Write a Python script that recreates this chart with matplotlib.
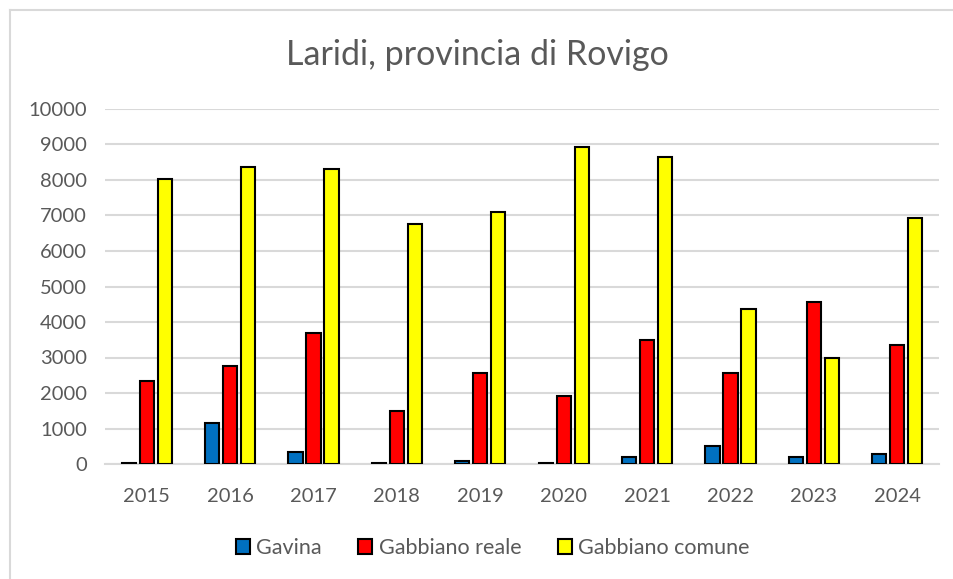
import matplotlib
matplotlib.use("Agg")
import matplotlib.pyplot as plt
import numpy as np
from matplotlib.lines import Line2D

years = ["2015", "2016", "2017", "2018", "2019", "2020", "2021", "2022", "2023", "2024"]
gavina = [40, 1150, 330, 40, 80, 40, 190, 510, 190, 290]
gabbiano_reale = [2350, 2760, 3700, 1480, 2570, 1915, 3490, 2560, 4570, 3350]
gabbiano_comune = [8030, 8360, 8320, 6750, 7085, 8930, 8650, 4380, 2980, 6930]
series_names = ["Gavina", "Gabbiano reale", "Gabbiano comune"]
y_ticks = [0, 1000, 2000, 3000, 4000, 5000, 6000, 7000, 8000, 9000, 10000]

colors = ["#0070C0", "#FF0000", "#FFFF00"]
text_gray = "#595959"
grid_gray = "#D9D9D9"
font = ["Lato", "DejaVu Sans"]

fig = plt.figure(figsize=(9.54, 5.79), dpi=100)
W, H = 954, 579

# chart border
fig.add_artist(Line2D([10 / W, 10 / W], [0, 1 - 10 / H], color="#D9D9D9", lw=1.5, transform=fig.transFigure))
fig.add_artist(Line2D([10 / W, 1], [1 - 10 / H, 1 - 10 / H], color="#D9D9D9", lw=1.5, transform=fig.transFigure))

left, right = 105 / W, 939 / W
bottom, top = 1 - 464 / H, 1 - 109 / H
ax = fig.add_axes([left, bottom, right - left, top - bottom])

x = np.arange(len(years))
w = 0.17
pitch = 0.216
for i, (vals, c, name) in enumerate(zip([gavina, gabbiano_reale, gabbiano_comune], colors, series_names)):
    ax.bar(x + (i - 1) * pitch, vals, width=w, color=c, edgecolor="black", linewidth=1.5, label=name, zorder=3)

ax.set_xlim(-0.5, len(years) - 0.5)
ax.set_ylim(0, 10000)
ax.set_yticks(y_ticks)
ax.set_yticklabels([str(t) for t in y_ticks], fontfamily=font, fontsize=14.5, color=text_gray)
ax.set_xticks(x)
ax.set_xticklabels(years, fontfamily=font, fontsize=14.5, color=text_gray)
ax.tick_params(axis="both", length=0)
ax.tick_params(axis="y", pad=13)
ax.tick_params(axis="x", pad=17)
ax.grid(axis="y", color=grid_gray, linewidth=1.5, zorder=0)
for s in ["top", "right", "left"]:
    ax.spines[s].set_visible(False)
ax.spines["bottom"].set_color(grid_gray)
ax.spines["bottom"].set_linewidth(1.5)

fig.text(0.5, 1 - 55 / H, "Laridi, provincia di Rovigo", ha="center", va="center",
         fontfamily=font, fontsize=24.5, color=text_gray)

leg = ax.legend(loc="center", bbox_to_anchor=(0.465, (548 - 464) / -(464 - 109)), ncol=3, frameon=False,
                prop={"family": font, "size": 15.5}, handlelength=0.65, handleheight=0.65,
                handletextpad=0.3, columnspacing=1.7)
for t in leg.get_texts():
    t.set_color(text_gray)

fig.savefig("out.png", dpi=100)
